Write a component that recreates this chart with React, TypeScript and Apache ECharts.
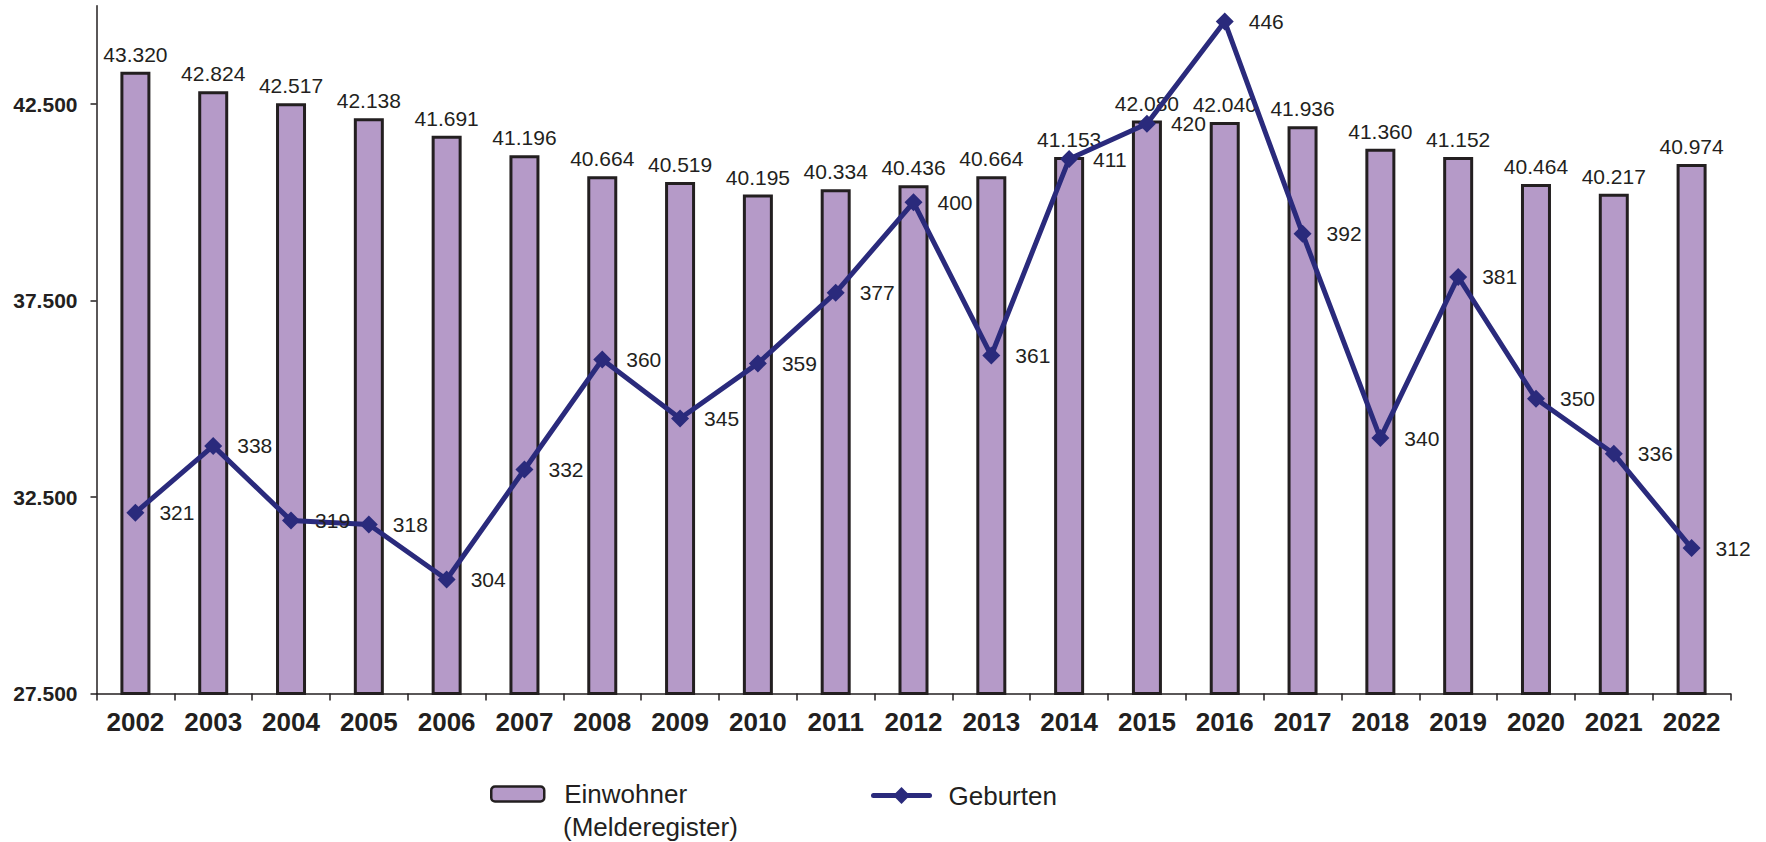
import React, { useEffect, useRef } from 'react';
import * as echarts from 'echarts';

const years = ['2002', '2003', '2004', '2005', '2006', '2007', '2008', '2009', '2010', '2011', '2012', '2013', '2014', '2015', '2016', '2017', '2018', '2019', '2020', '2021', '2022'];
const einwohner = [43320, 42824, 42517, 42138, 41691, 41196, 40664, 40519, 40195, 40334, 40436, 40664, 41153, 42080, 42040, 41936, 41360, 41152, 40464, 40217, 40974];
const geburten = [321, 338, 319, 318, 304, 332, 360, 345, 359, 377, 400, 361, 411, 420, 446, 392, 340, 381, 350, 336, 312];
const leftTicks = [27500, 32500, 37500, 42500];

const BAR_NAME = 'Einwohner (Melderegister)';
const BAR_LINE1 = 'Einwohner';
const BAR_LINE2 = '(Melderegister)';
const LINE_NAME = 'Geburten';
const FONT = '"Liberation Sans", Arial, Helvetica, sans-serif';
const TEXT = '#231f20';
const BAR = '#b59ac8';
const LINE = '#2a2a7c';

const fmt = (v: number) => String(Math.round(v)).replace(/\B(?=(\d{3})+(?!\d))/g, '.');

export default function App() {
  const ref = useRef<HTMLDivElement>(null);
  useEffect(() => {
    const chart = echarts.init(ref.current!, null, { renderer: 'svg' });
    const axisLine = { color: TEXT, width: 1.5 };
    chart.setOption({
      animation: false,
      backgroundColor: '#ffffff',
      textStyle: { fontFamily: FONT },
      grid: { left: 96.5, right: 35.5, top: 5.8, bottom: 148.5, containLabel: false },
      xAxis: {
        type: 'category',
        data: years,
        boundaryGap: true,
        axisLine: { show: true, lineStyle: axisLine },
        axisTick: { show: true, length: 7, lineStyle: axisLine },
        axisLabel: { fontSize: 26, fontWeight: 'bold', color: TEXT, margin: 15, interval: 0, fontFamily: FONT },
        splitLine: { show: false },
      },
      yAxis: [
        {
          type: 'value',
          min: 27500,
          max: 45000,
          axisLine: { show: true, lineStyle: axisLine },
          axisTick: { show: true, length: 6, customValues: leftTicks, lineStyle: axisLine },
          axisLabel: { customValues: leftTicks, formatter: (v: number) => fmt(v), fontSize: 21, fontWeight: 'bold', color: TEXT, margin: 19, fontFamily: FONT },
          splitLine: { show: false },
        },
        { type: 'value', min: 275, max: 450, show: false, splitLine: { show: false } },
      ],
      legend: [
        {
          data: [{ name: BAR_NAME }],
          formatter: () => BAR_LINE1,
          left: 490,
          top: 781,
          padding: 0,
          itemWidth: 53,
          itemHeight: 15,
          selectedMode: false,
          itemStyle: { color: BAR, borderColor: TEXT, borderWidth: 2.5 },
          textStyle: { fontSize: 26, color: TEXT, lineHeight: 15, padding: [0, 0, 0, 15], fontFamily: FONT },
        },
        {
          data: [{ name: LINE_NAME }],
          left: 871,
          top: 782.5,
          padding: 0,
          itemWidth: 56,
          itemHeight: 21,
          selectedMode: false,
          lineStyle: { color: LINE, width: 5, cap: 'round' },
          itemStyle: { color: LINE },
          textStyle: { fontSize: 26, color: TEXT, lineHeight: 21, padding: [0, 0, 0, 14], fontFamily: FONT },
        },
      ],
      graphic: [
        {
          type: 'text',
          left: 563,
          top: 814,
          style: { text: BAR_LINE2, fontSize: 26, fill: TEXT, fontFamily: FONT },
        },
      ],
      series: [
        {
          type: 'bar',
          name: BAR_NAME,
          data: einwohner,
          barWidth: 30,
          itemStyle: { color: BAR, borderColor: TEXT, borderWidth: 3 },
          label: { show: true, position: 'top', distance: 7, formatter: (p: any) => fmt(p.value), fontSize: 21, color: TEXT, fontFamily: FONT },
          z: 2,
        },
        {
          type: 'line',
          name: LINE_NAME,
          yAxisIndex: 1,
          data: geburten,
          symbol: 'diamond',
          symbolSize: 18,
          lineStyle: { color: LINE, width: 5 },
          itemStyle: { color: LINE },
          label: { show: true, position: 'right', distance: 15, fontSize: 21, color: TEXT, fontFamily: FONT },
          z: 3,
        },
      ],
    });
    return () => chart.dispose();
  }, []);
  return <div ref={ref} style={{ position: 'fixed', left: 0, top: 0, width: 1766, height: 842 }} />;
}
